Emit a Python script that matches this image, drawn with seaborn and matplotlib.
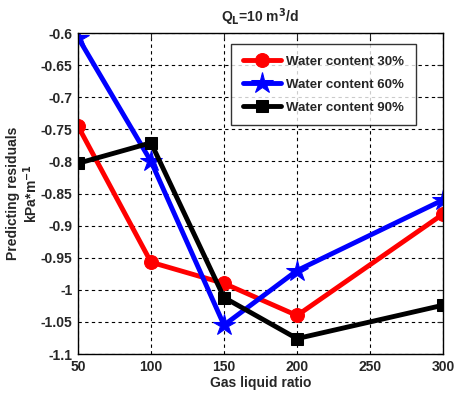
import pandas as pd
import matplotlib
matplotlib.use('Agg')
import matplotlib.pyplot as plt
import seaborn as sns

# data
gas_liquid_ratio = [50, 100, 150, 200, 300]
wc30 = [-0.745, -0.957, -0.990, -1.040, -0.882]
wc60 = [-0.607, -0.800, -1.055, -0.970, -0.860]
wc90 = [-0.803, -0.771, -1.012, -1.076, -1.024]
series_names = ['Water content 30%', 'Water content 60%', 'Water content 90%']

x_ticks = [50, 100, 150, 200, 250, 300]
y_ticks = [-1.1, -1.05, -1.0, -0.95, -0.9, -0.85, -0.8, -0.75, -0.7, -0.65, -0.6]

rows = []
for name, vals in zip(series_names, [wc30, wc60, wc90]):
    for x, y in zip(gas_liquid_ratio, vals):
        rows.append({'GLR': x, 'Residual': y, 'Series': name})
df = pd.DataFrame(rows)

sns.set_style('white')
plt.rcParams['font.family'] = ['Liberation Sans', 'DejaVu Sans']
plt.rcParams['font.weight'] = 'bold'
plt.rcParams['axes.labelweight'] = 'bold'

fig = plt.figure(figsize=(4.69, 3.93), dpi=100)
ax = fig.add_axes([0.1663, 0.0992, 0.7783, 0.8168])

palette = {series_names[0]: '#ff0000', series_names[1]: '#0000ff', series_names[2]: '#000000'}
markers = {series_names[0]: 'o', series_names[1]: '*', series_names[2]: 's'}
sizes = {series_names[0]: 10, series_names[1]: 16, series_names[2]: 9}

for name in series_names:
    sub = df[df['Series'] == name]
    sns.lineplot(data=sub, x='GLR', y='Residual', ax=ax, color=palette[name],
                 marker=markers[name], markersize=sizes[name], markeredgecolor=palette[name],
                 linewidth=3.5, label=name)

ax.set_xlim(50, 300)
ax.set_ylim(-1.1, -0.6)
ax.set_xticks(x_ticks)
ax.set_yticks(y_ticks)
ax.set_xticklabels([str(t) for t in x_ticks], fontsize=10, fontweight='bold')
ax.set_yticklabels(['%g' % t for t in y_ticks], fontsize=10, fontweight='bold')
ax.tick_params(direction='in', top=True, right=True, length=4, width=0.8, pad=4)
ax.grid(True, linestyle=(0, (3, 3)), color='black', linewidth=0.8)
for s in ax.spines.values():
    s.set_color('black')
    s.set_linewidth(1.0)

ax.set_xlabel('Gas liquid ratio', fontsize=10, fontweight='bold', labelpad=2)
ax.set_ylabel('Predicting residuals\nkPa*m$^{\\mathbf{-1}}$', fontsize=10, fontweight='bold',
              linespacing=1.1)
ax.yaxis.set_label_coords(-0.105, 0.5)
ax.set_title('Q$_\\mathrm{L}$=10 m$^3$/d', fontsize=10, fontweight='bold', pad=8)

leg = ax.legend(loc='upper right', bbox_to_anchor=(0.926, 0.966), fontsize=9.5, frameon=True,
                fancybox=False, edgecolor='black', handlelength=2.9, borderpad=0.9,
                labelspacing=0.8, handletextpad=0.4, borderaxespad=0)
leg.get_frame().set_linewidth(1.0)
for t in leg.get_texts():
    t.set_fontweight('bold')

fig.savefig('out.png', dpi=100)
